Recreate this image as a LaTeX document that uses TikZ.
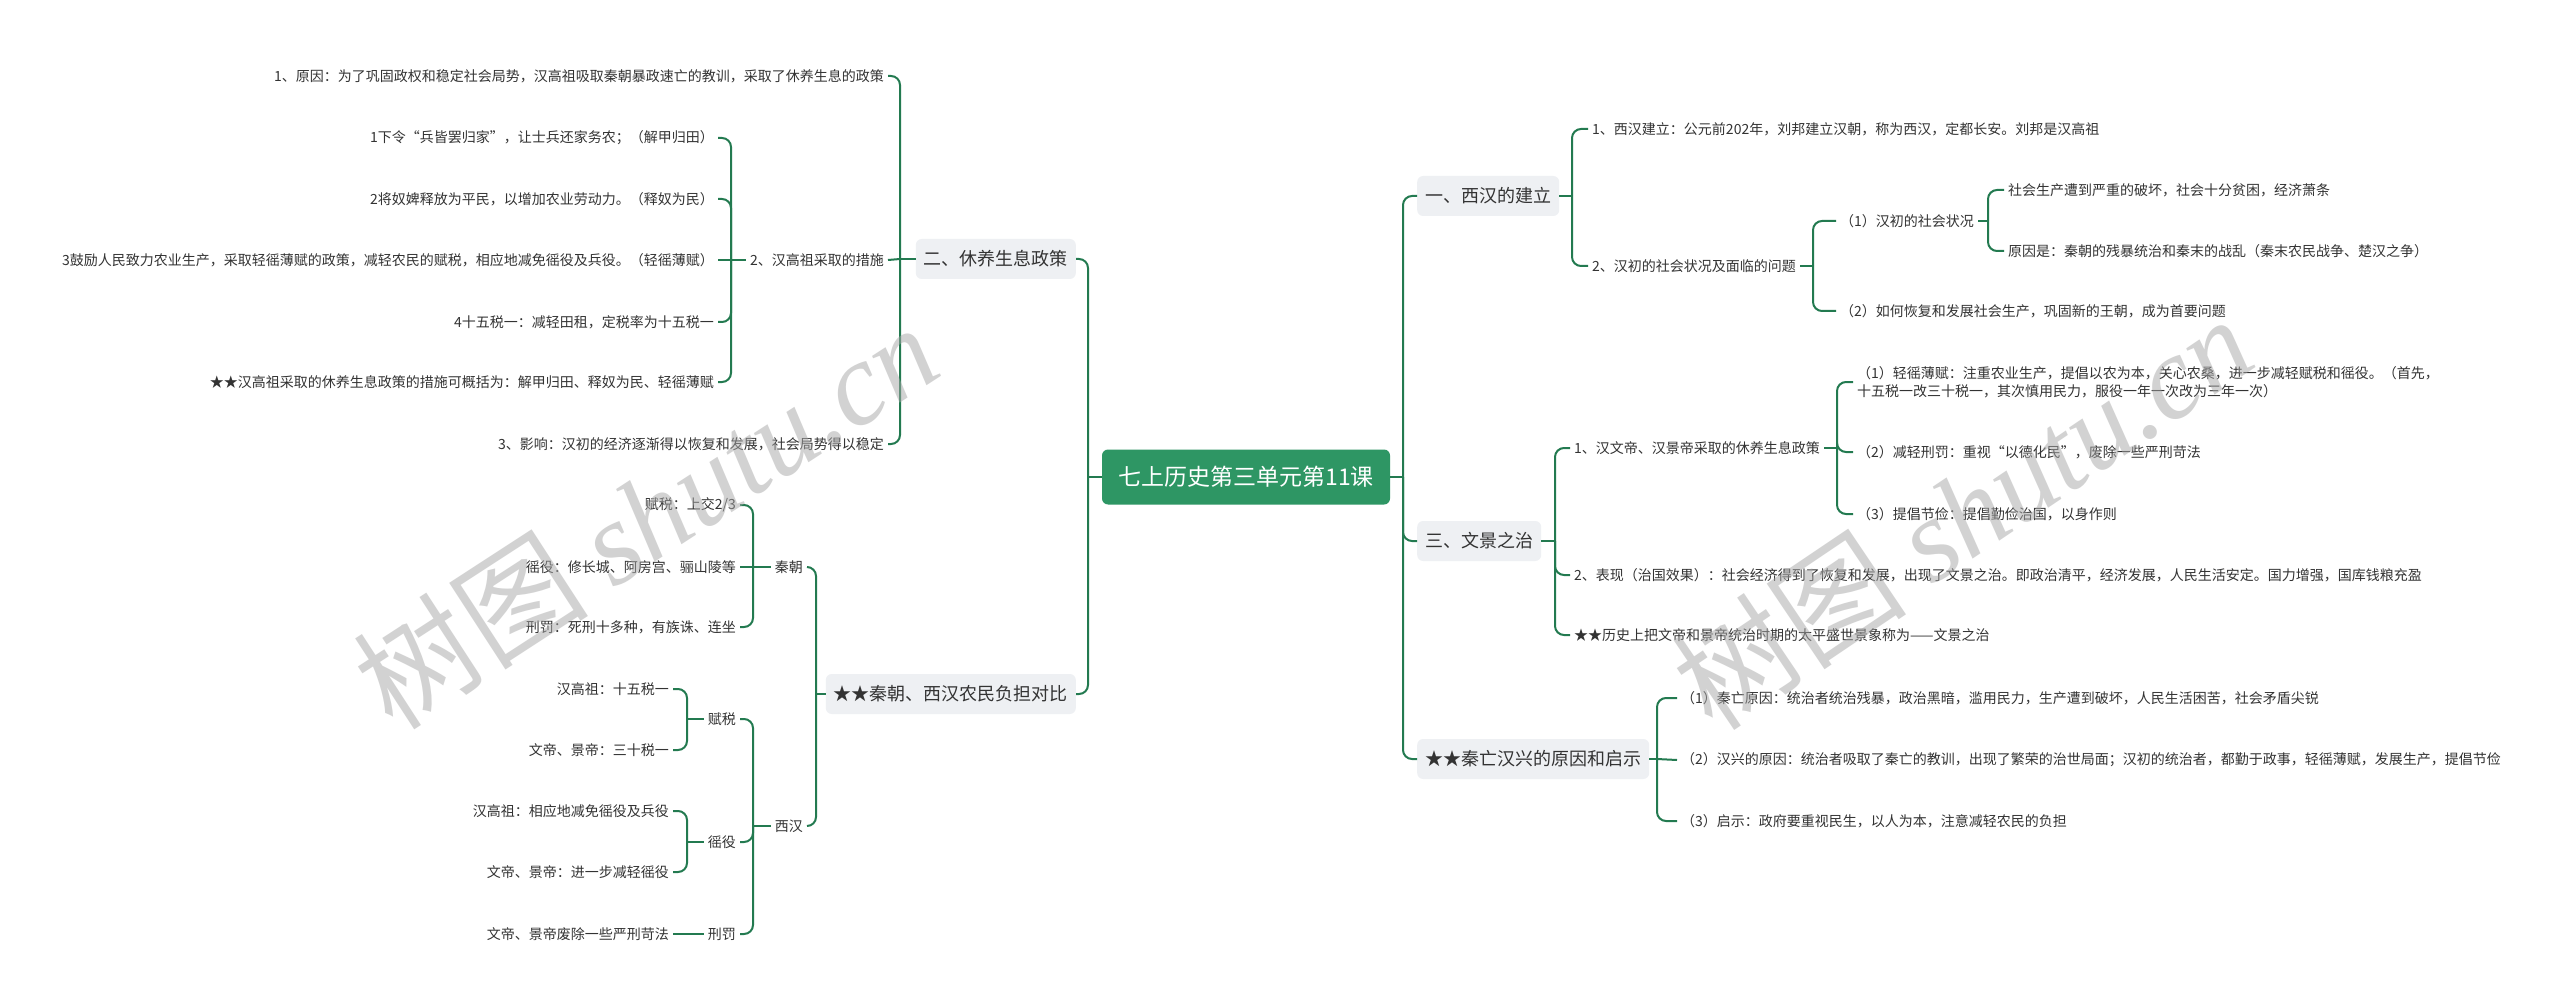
\documentclass[tikz,border=0pt]{standalone}
\usepackage{fontspec}
\setmainfont{Noto Sans CJK SC}
\newfontfamily\wmserif{Liberation Serif}
\usetikzlibrary{calc}
\definecolor{linegreen}{HTML}{237A50}
\definecolor{rootgreen}{HTML}{2E9664}
\definecolor{boxgrey}{HTML}{EEF0F3}
\definecolor{txt}{HTML}{333333}
\definecolor{wmgrey}{HTML}{A6A6A6}
\newcommand\linkR[3]{\draw[conn] (#1.east -| #2) |- (#3.west);}
\newcommand\stubR[2]{\draw[conn] (#1.east) -- (#1.east -| #2);}
\newcommand\linkL[3]{\draw[conn] (#1.west -| #2) |- (#3.east);}
\newcommand\stubL[2]{\draw[conn] (#1.west) -- (#1.west -| #2);}
\tikzset{
  rootbox/.style={fill=rootgreen, rounded corners=6pt, text=white, minimum width=288pt, minimum height=55pt,
    font=\fontsize{23pt}{27pt}\selectfont, inner sep=0pt},
  mainbox/.style={fill=boxgrey, rounded corners=6pt, text=txt, minimum height=40pt, inner xsep=8pt, inner ysep=0pt,
    font=\fontsize{18pt}{22pt}\selectfont},
  leaf/.style={text=txt, inner xsep=4pt, inner ysep=3pt, font=\fontsize{14pt}{18pt}\selectfont},
  conn/.style={draw=linegreen, line width=2pt, rounded corners=9pt},
  wm/.style={text=wmgrey, opacity=0.5, font=\fontsize{118pt}{128pt}\selectfont, inner sep=0pt}
}
\begin{document}
\begin{tikzpicture}[x=1pt,y=-1pt]
\fill[white] (0,0) rectangle (2560,1008);
\useasboundingbox (0,0) rectangle (2560,1008);

% trunk coordinates
\coordinate (tR) at (1403,0);
\coordinate (tL) at (1088,0);
\coordinate (tR1) at (1572,0);
\coordinate (tR1b) at (1813,0);
\coordinate (tR1b1) at (1988,0);
\coordinate (tR2) at (1555,0);
\coordinate (tR2a) at (1837,0);
\coordinate (tR3) at (1657,0);
\coordinate (tL1) at (900,0);
\coordinate (tL1b) at (731,0);
\coordinate (tL2) at (816,0);
\coordinate (tL2a) at (753,0);
\coordinate (tL2b) at (753,0);
\coordinate (tL2b1) at (687,0);
\coordinate (tL2b2) at (687,0);

% root
\node[rootbox] (root) at (1246,477) {七上历史第三单元第11课};

% ---------- right side ----------
\node[mainbox, anchor=west] (r1) at (1417,196) {一、西汉的建立};
\node[leaf, anchor=west] (r1a) at (1588,129) {1、西汉建立：公元前202年，刘邦建立汉朝，称为西汉，定都长安。刘邦是汉高祖};
\node[leaf, anchor=west] (r1b) at (1588,266) {2、汉初的社会状况及面临的问题};
\node[leaf, anchor=west] (r1b1) at (1836,221) {（1）汉初的社会状况};
\node[leaf, anchor=west] (r1b2) at (1836,311) {（2）如何恢复和发展社会生产，巩固新的王朝，成为首要问题};
\node[leaf, anchor=west] (r1b1a) at (2004,190) {社会生产遭到严重的破坏，社会十分贫困，经济萧条};
\node[leaf, anchor=west] (r1b1b) at (2004,251) {原因是：秦朝的残暴统治和秦末的战乱（秦末农民战争、楚汉之争）};

\node[mainbox, anchor=west] (r2) at (1417,541) {三、文景之治};
\node[leaf, anchor=west] (r2a) at (1570,448) {1、汉文帝、汉景帝采取的休养生息政策};
\node[leaf, anchor=west, align=left] (r2a1) at (1853,382) {（1）轻徭薄赋：注重农业生产，提倡以农为本，关心农桑，进一步减轻赋税和徭役。（首先，\\十五税一改三十税一，其次慎用民力，服役一年一次改为三年一次）};
\node[leaf, anchor=west] (r2a2) at (1853,452) {（2）减轻刑罚：重视“以德化民”，废除一些严刑苛法};
\node[leaf, anchor=west] (r2a3) at (1853,514) {（3）提倡节俭：提倡勤俭治国，以身作则};
\node[leaf, anchor=west] (r2b) at (1570,575) {2、表现（治国效果）：社会经济得到了恢复和发展，出现了文景之治。即政治清平，经济发展，人民生活安定。国力增强，国库钱粮充盈};
\node[leaf, anchor=west] (r2c) at (1570,635) {★★历史上把文帝和景帝统治时期的太平盛世景象称为——文景之治};

\node[mainbox, anchor=west] (r3) at (1417,759) {★★秦亡汉兴的原因和启示};
\node[leaf, anchor=west] (r3a) at (1677,698) {（1）秦亡原因：统治者统治残暴，政治黑暗，滥用民力，生产遭到破坏，人民生活困苦，社会矛盾尖锐};
\node[leaf, anchor=west] (r3b) at (1677,760) {（2）汉兴的原因：统治者吸取了秦亡的教训，出现了繁荣的治世局面；汉初的统治者，都勤于政事，轻徭薄赋，发展生产，提倡节俭};
\node[leaf, anchor=west] (r3c) at (1677,821) {（3）启示：政府要重视民生，以人为本，注意减轻农民的负担};

% ---------- left side ----------
\node[mainbox, anchor=east] (l1) at (1076,259) {二、休养生息政策};
\node[leaf, anchor=east] (l1a) at (888,76) {1、原因：为了巩固政权和稳定社会局势，汉高祖吸取秦朝暴政速亡的教训，采取了休养生息的政策};
\node[leaf, anchor=east] (l1b) at (888,260) {2、汉高祖采取的措施};
\node[leaf, anchor=east] (l1c) at (888,444) {3、影响：汉初的经济逐渐得以恢复和发展，社会局势得以稳定};
\node[leaf, anchor=east] (l1b1) at (718,138) {1下令“兵皆罢归家”，让士兵还家务农；（解甲归田）};
\node[leaf, anchor=east] (l1b2) at (718,199) {2将奴婢释放为平民，以增加农业劳动力。（释奴为民）};
\node[leaf, anchor=east] (l1b3) at (718,260) {3鼓励人民致力农业生产，采取轻徭薄赋的政策，减轻农民的赋税，相应地减免徭役及兵役。（轻徭薄赋）};
\node[leaf, anchor=east] (l1b4) at (718,322) {4十五税一：减轻田租，定税率为十五税一};
\node[leaf, anchor=east] (l1b5) at (718,382) {★★汉高祖采取的休养生息政策的措施可概括为：解甲归田、释奴为民、轻徭薄赋};

\node[mainbox, anchor=east] (l2) at (1076,694) {★★秦朝、西汉农民负担对比};
\node[leaf, anchor=east] (l2a) at (807,567) {秦朝};
\node[leaf, anchor=east] (l2b) at (807,826) {西汉};
\node[leaf, anchor=east] (l2a1) at (740,505) {赋税：上交2/3};
\node[leaf, anchor=east] (l2a2) at (740,567) {徭役：修长城、阿房宫、骊山陵等};
\node[leaf, anchor=east] (l2a3) at (740,627) {刑罚：死刑十多种，有族诛、连坐};
\node[leaf, anchor=east] (l2b1) at (740,719) {赋税};
\node[leaf, anchor=east] (l2b2) at (740,842) {徭役};
\node[leaf, anchor=east] (l2b3) at (740,934) {刑罚};
\node[leaf, anchor=east] (l2b1a) at (673,689) {汉高祖：十五税一};
\node[leaf, anchor=east] (l2b1b) at (673,750) {文帝、景帝：三十税一};
\node[leaf, anchor=east] (l2b2a) at (673,811) {汉高祖：相应地减免徭役及兵役};
\node[leaf, anchor=east] (l2b2b) at (673,872) {文帝、景帝：进一步减轻徭役};
\node[leaf, anchor=east] (l2b3a) at (673,934) {文帝、景帝废除一些严刑苛法};

% ---------- connectors right ----------
\stubR{root}{tR}
\linkR{root}{tR}{r1} \linkR{root}{tR}{r2} \linkR{root}{tR}{r3}
\stubR{r1}{tR1}
\linkR{r1}{tR1}{r1a} \linkR{r1}{tR1}{r1b}
\stubR{r1b}{tR1b}
\linkR{r1b}{tR1b}{r1b1} \linkR{r1b}{tR1b}{r1b2}
\stubR{r1b1}{tR1b1}
\linkR{r1b1}{tR1b1}{r1b1a} \linkR{r1b1}{tR1b1}{r1b1b}
\stubR{r2}{tR2}
\linkR{r2}{tR2}{r2a} \linkR{r2}{tR2}{r2b} \linkR{r2}{tR2}{r2c}
\stubR{r2a}{tR2a}
\linkR{r2a}{tR2a}{r2a1} \linkR{r2a}{tR2a}{r2a2} \linkR{r2a}{tR2a}{r2a3}
\stubR{r3}{tR3}
\linkR{r3}{tR3}{r3a} \linkR{r3}{tR3}{r3c}
\draw[conn] (r3.east -| tR3) -- (r3b.west);

% ---------- connectors left ----------
\stubL{root}{tL}
\linkL{root}{tL}{l1} \linkL{root}{tL}{l2}
\stubL{l1}{tL1}
\linkL{l1}{tL1}{l1a} \linkL{l1}{tL1}{l1c}
\draw[conn] (l1.west -| tL1) -- (l1b.east);
\stubL{l1b}{tL1b}
\linkL{l1b}{tL1b}{l1b1} \linkL{l1b}{tL1b}{l1b2} \linkL{l1b}{tL1b}{l1b4} \linkL{l1b}{tL1b}{l1b5}
\draw[conn] (l1b.west -| tL1b) -- (l1b3.east);
\stubL{l2}{tL2}
\linkL{l2}{tL2}{l2a} \linkL{l2}{tL2}{l2b}
\stubL{l2a}{tL2a}
\linkL{l2a}{tL2a}{l2a1} \linkL{l2a}{tL2a}{l2a3}
\draw[conn] (l2a.west -| tL2a) -- (l2a2.east);
\stubL{l2b}{tL2b}
\linkL{l2b}{tL2b}{l2b1} \linkL{l2b}{tL2b}{l2b2} \linkL{l2b}{tL2b}{l2b3}
\stubL{l2b1}{tL2b1}
\linkL{l2b1}{tL2b1}{l2b1a} \linkL{l2b1}{tL2b1}{l2b1b}
\stubL{l2b2}{tL2b2}
\linkL{l2b2}{tL2b2}{l2b2a} \linkL{l2b2}{tL2b2}{l2b2b}
\draw[conn] (l2b3.west) -- (l2b3a.east);

% ---------- watermarks ----------
\node[wm, rotate=33] (wm1) at (645,515) {树图 {\wmserif\itshape shutu.cn}};
\node[wm, rotate=34] (wm2) at (1962,512) {树图 {\wmserif\itshape shutu.cn}};
\end{tikzpicture}
\end{document}
